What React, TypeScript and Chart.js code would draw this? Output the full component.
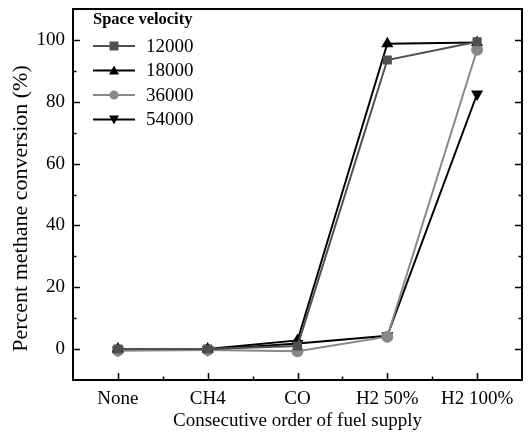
import React, { useEffect, useRef } from "react";
import { Chart, registerables } from "chart.js";

Chart.register(...registerables);

const categories = ["None", "CH4", "CO", "H2 50%", "H2 100%"];
const seriesNames = ["12000", "18000", "36000", "54000"];
const sv12000 = [0, 0, 1, 93.5, 99.4];
const sv18000 = [0, 0, 2.8, 98.8, 99.2];
const sv36000 = [-0.5, -0.3, -0.7, 4, 96.8];
const sv54000 = [-0.3, -0.2, 1.8, 4.3, 82.5];
const yTicks = [0, 20, 40, 60, 80, 100];
const yMinorTicks = [10, 30, 50, 70, 90];
const yTitle = "Percent methane conversion (%)";
const xTitle = "Consecutive order of fuel supply";
const legendTitle = "Space velocity";

const FONT = "'Liberation Serif', 'Times New Roman', serif";

const colors = ["#505050", "#000000", "#888888", "#000000"];
const styles: any[] = ["rect", "triangle", "circle", "triangle"];
const rotations = [0, 0, 0, 180];

function drawMarker(ctx: CanvasRenderingContext2D, style: string, x: number, y: number, r: number, rot: number) {
  ctx.beginPath();
  if (style === "rect") {
    ctx.rect(x - r, y - r, 2 * r, 2 * r);
  } else if (style === "circle") {
    ctx.arc(x, y, r, 0, Math.PI * 2);
  } else {
    const s = rot === 180 ? -1 : 1;
    const h = r * 1.1;
    ctx.moveTo(x, y - s * h);
    ctx.lineTo(x + h, y + s * h * 0.8);
    ctx.lineTo(x - h, y + s * h * 0.8);
    ctx.closePath();
  }
  ctx.fill();
}

const framePlugin = {
  id: "frameAndLegend",
  afterDraw(chart: any) {
    const { ctx, chartArea } = chart;
    const { left, right, top, bottom } = chartArea;
    const xs = chart.scales.x;
    const ys = chart.scales.y;
    ctx.save();
    ctx.strokeStyle = "#000";
    ctx.lineWidth = 2;
    ctx.strokeRect(left, top, right - left, bottom - top);
    ctx.lineWidth = 1.5;
    ctx.beginPath();
    categories.forEach((_, i) => {
      const px = Math.round(xs.getPixelForValue(i)) + 0.5;
      ctx.moveTo(px, bottom);
      ctx.lineTo(px, bottom - 7);
    });
    for (let i = 0; i < categories.length - 1; i++) {
      const px = Math.round((xs.getPixelForValue(i) + xs.getPixelForValue(i + 1)) / 2) + 0.5;
      ctx.moveTo(px, bottom);
      ctx.lineTo(px, bottom - 3.5);
    }
    yTicks.forEach((v) => {
      const py = Math.round(ys.getPixelForValue(v)) + 0.5;
      ctx.moveTo(left, py);
      ctx.lineTo(left + 7, py);
      ctx.moveTo(right, py);
      ctx.lineTo(right - 7, py);
    });
    yMinorTicks.forEach((v) => {
      const py = Math.round(ys.getPixelForValue(v)) + 0.5;
      ctx.moveTo(left, py);
      ctx.lineTo(left + 3.5, py);
      ctx.moveTo(right, py);
      ctx.lineTo(right - 3.5, py);
    });
    ctx.stroke();

    // y axis title
    ctx.save();
    ctx.translate(21, (top + bottom) / 2 + 14);
    ctx.rotate(-Math.PI / 2);
    ctx.fillStyle = "#000";
    ctx.font = `22px ${FONT}`;
    ctx.textAlign = "center";
    ctx.textBaseline = "middle";
    ctx.fillText(yTitle, 0, 0);
    ctx.restore();

    // legend
    const lx = left + 20;
    ctx.fillStyle = "#000";
    ctx.font = `bold 16.5px ${FONT}`;
    ctx.textBaseline = "middle";
    ctx.textAlign = "left";
    ctx.fillText(legendTitle, lx, top + 11);
    ctx.font = `19px ${FONT}`;
    seriesNames.forEach((name, i) => {
      const cy = top + 37 + i * 24.5;
      ctx.strokeStyle = colors[i];
      ctx.lineWidth = 2;
      ctx.beginPath();
      ctx.moveTo(lx, cy);
      ctx.lineTo(lx + 42, cy);
      ctx.stroke();
      ctx.fillStyle = colors[i];
      drawMarker(ctx, styles[i], lx + 21, cy, 4.5, rotations[i]);
      ctx.fillStyle = "#000";
      ctx.fillText(name, lx + 53, cy + 1);
    });
    ctx.restore();
  },
};

export default function App() {
  const ref = useRef<HTMLCanvasElement>(null);
  useEffect(() => {
    document.body.style.margin = "0";
    const data = [sv12000, sv18000, sv36000, sv54000];
    const chart = new Chart(ref.current as HTMLCanvasElement, {
      type: "line",
      data: {
        labels: categories,
        datasets: seriesNames.map((n, i) => ({
          label: n,
          data: data[i],
          borderColor: colors[i],
          backgroundColor: colors[i],
          borderWidth: 2,
          pointStyle: styles[i],
          pointRotation: rotations[i],
          pointRadius: 5,
          pointHoverRadius: 5,
          tension: 0,
        })),
      },
      options: {
        animation: false,
        responsive: false,
        devicePixelRatio: 1,
        layout: { padding: { top: 9, right: 2, left: 0, bottom: 0 } },
        plugins: {
          legend: { display: false },
          tooltip: { enabled: false },
        },
        scales: {
          x: {
            type: "category",
            offset: true,
            grid: { display: false },
            border: { display: false },
            ticks: { font: { family: FONT, size: 19 }, color: "#000", padding: 0, maxRotation: 0 },
            title: {
              display: true,
              text: xTitle,
              font: { family: FONT, size: 19 },
              color: "#000",
              padding: { top: 0, bottom: 16 },
            },
            afterFit(scale: any) {
              scale.height = 68;
              scale.paddingLeft = 0;
              scale.paddingRight = 0;
            },
          },
          y: {
            type: "linear",
            min: -10,
            max: 110,
            grid: { display: false },
            border: { display: false },
            afterBuildTicks(scale: any) {
              scale.ticks = yTicks.map((v) => ({ value: v }));
            },
            ticks: { font: { family: FONT, size: 19 }, color: "#000", padding: 0 },
            afterFit(scale: any) {
              scale.width = 73;
              scale.paddingTop = 0;
              scale.paddingBottom = 0;
            },
          },
        },
      },
      plugins: [framePlugin],
    } as any);
    return () => chart.destroy();
  }, []);
  return (
    <div style={{ position: "absolute", left: 0, top: 0 }}>
      <canvas ref={ref} width={529} height={448} style={{ width: 529, height: 448 }} />
    </div>
  );
}
